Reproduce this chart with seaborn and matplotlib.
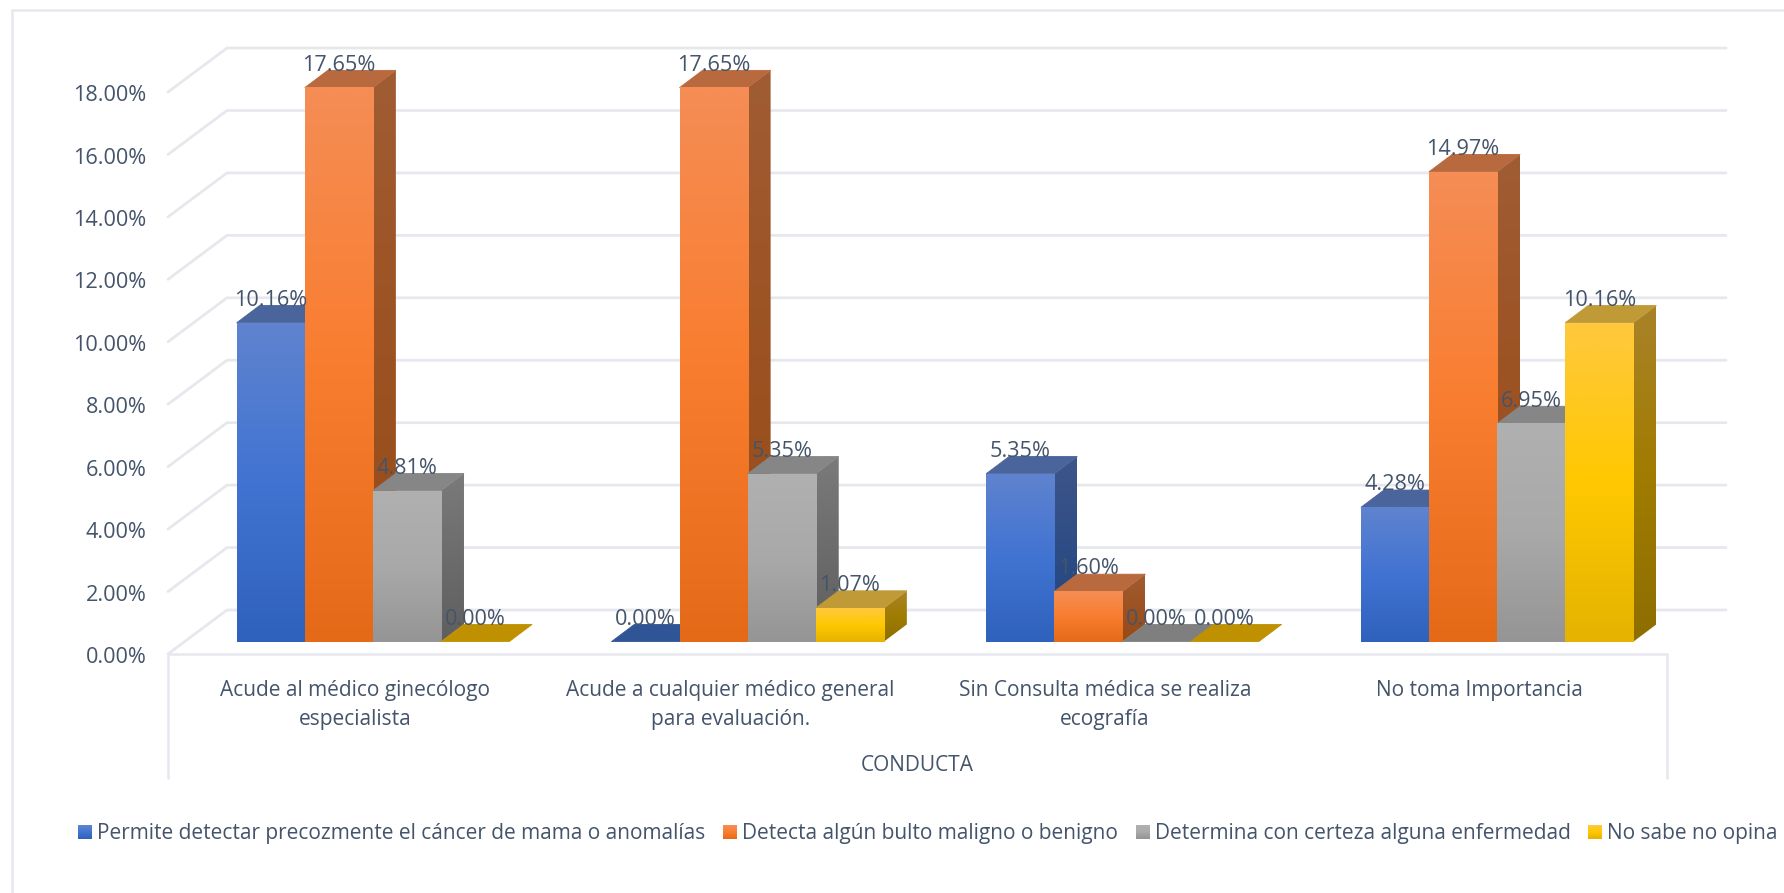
import matplotlib
matplotlib.use('Agg')
import matplotlib.pyplot as plt
import numpy as np
import pandas as pd
import seaborn as sns
from matplotlib.colors import to_rgb
from matplotlib.legend_handler import HandlerBase
from matplotlib.lines import Line2D
from matplotlib.patches import Polygon, Rectangle
from matplotlib.transforms import ScaledTranslation

# Data (percent)
conductas = ['Acude al médico ginecólogo\nespecialista',
             'Acude a cualquier médico general\npara evaluación.',
             'Sin Consulta médica se realiza\necografía',
             'No toma Importancia']
series = ['Permite detectar precozmente el cáncer de mama o anomalías',
          'Detecta algún bulto maligno o benigno',
          'Determina con certeza alguna enfermedad',
          'No sabe no opina']
permite = [10.16, 0.00, 5.35, 4.28]
detecta = [17.65, 17.65, 1.60, 14.97]
determina = [4.81, 5.35, 0.00, 6.95]
no_sabe = [0.00, 1.07, 0.00, 10.16]
y_ticks = [0, 2, 4, 6, 8, 10, 12, 14, 16, 18]

# Colours: gradient stops for the front and side faces, flat colour for the tops
front_stops = [['#5f83cf', '#4173d2', '#2f62bc'],
               ['#f58d55', '#f97d2f', '#e56a18'],
               ['#b0b0b0', '#a9a9a9', '#959595'],
               ['#ffc83d', '#ffc800', '#e5b300']]
side_stops = [['#3e5689', '#2e4c85', '#234680'],
              ['#a05c33', '#9c5222', '#954c18'],
              ['#7a7a7a', '#6c6c6c', '#5f5f5f'],
              ['#a98229', '#a07c00', '#8d6e00']]
top_colors = ['#4a649c', '#b8693e', '#868686', '#c09a36']
flat_colors = ['#2f5597', '#b8693e', '#7f7f7f', '#bf9000']
text_color = '#44546a'
line_color = '#e6e8ee'

W, H = 1784, 893
sns.set_theme(style='white')
plt.rcParams['font.family'] = ['Open Sans', 'DejaVu Sans']
plt.rcParams['text.color'] = text_color


def axes_px(fig, left, right, top, bottom):
    return fig.add_axes([left / W, 1 - bottom / H, (right - left) / W, (bottom - top) / H])


def gradient(stops, n=64):
    rgb = np.array([to_rgb(c) for c in stops])
    pos = np.linspace(0, 1, len(stops))
    t = np.linspace(0, 1, n)
    return np.stack([np.interp(t, pos, rgb[:, i]) for i in range(3)], axis=1)


class GradientHandle(HandlerBase):
    # Legend square with the same fade as the bars
    def __init__(self, stops):
        super().__init__()
        self.stops = stops

    def create_artists(self, legend, orig_handle, xdescent, ydescent, width, height, fontsize, trans):
        colors = gradient(self.stops, 14)
        h = height / len(colors)
        return [Rectangle((-xdescent, -ydescent + height - (i + 1) * h), width, h * 1.05,
                          facecolor=c, edgecolor='none', transform=trans)
                for i, c in enumerate(colors)]


fig = plt.figure(figsize=(W / 100, H / 100), dpi=100, facecolor='white')

# Outer frame of the chart, only left and top are inside the crop
fig.add_artist(Line2D([12 / W, 12 / W], [0, 1 - 10 / H], color=line_color, lw=1.8))
fig.add_artist(Line2D([12 / W, 1], [1 - 10 / H, 1 - 10 / H], color=line_color, lw=1.8))

# Wall axes: ticks, category labels and the 3D looking grid
wall = axes_px(fig, 168, 1667, 654 - 20 * 31.22, 654)
wall.set_xlim(-0.5, 3.5)
wall.set_ylim(0, 20)
wall.patch.set_visible(False)
sns.despine(ax=wall, left=True, bottom=True, top=True, right=True)
wall.set_yticks(y_ticks)
wall.set_yticklabels([f'{t:.2f}%' for t in y_ticks], fontsize=15.6, color=text_color)
wall.set_xticks(range(len(conductas)))
wall.set_xticklabels(conductas, fontsize=15, color=text_color, linespacing=1.5)
wall.tick_params(axis='y', length=0, pad=15.5)
wall.tick_params(axis='x', length=0, pad=18.5)
wall.set_xlabel('CONDUCTA', fontsize=15, color=text_color, labelpad=18)
# Tick labels sit a little lower than the gridline ends
nudge = ScaledTranslation(0, -0.8 / 72, fig.dpi_scale_trans)
for lab in wall.get_yticklabels():
    lab.set_transform(lab.get_transform() + nudge)

unit_x = (1667 - 168) / 4
unit_y = 31.22
back_x = -0.5 + 59 / unit_x
back_right = -0.5 + (1726 - 168) / unit_x
back_dy = 44 / unit_y
for t in y_ticks:
    wall.plot([-0.5, back_x, back_right], [t, t + back_dy, t + back_dy],
              color=line_color, lw=2, clip_on=False, solid_joinstyle='round', zorder=1)
floor = -(778 - 654) / unit_y
wall.plot([-0.5, -0.5, 3.5, 3.5], [floor, 0, 0, floor], color=line_color, lw=1.8, clip_on=False, zorder=1)

# Bars axes: sits on the floor, half a depth behind the wall front
ax = axes_px(fig, 185.5, 1684.5, 641.7 - 20 * 31.39, 641.7)
ax.patch.set_visible(False)

df = pd.DataFrame({
    'conducta': conductas * 4,
    'serie': [s for s in series for _ in conductas],
    'valor': permite + detecta + determina + no_sabe,
})
sns.barplot(data=df, x='conducta', y='valor', hue='serie', hue_order=series, order=conductas,
            palette=[s[1] for s in front_stops], width=0.727, gap=0, saturation=1,
            errorbar=None, ax=ax)
handles, labels = ax.get_legend_handles_labels()
ax.get_legend().remove()
ax.set_xlim(-0.5, 3.5)
ax.set_ylim(0, 20)
ax.set_xlabel('')
ax.set_ylabel('')
ax.set_xticks([])
ax.set_yticks([])
sns.despine(ax=ax, left=True, bottom=True, top=True, right=True)

depth_x = 23 / ((1684.5 - 185.5) / 4)
depth_y = 17.3 / 31.39

# Side, top and front face for every bar, left to right so nearer bars cover the earlier sides
for s, container in enumerate(ax.containers):
    for bar in container:
        x0, x1 = bar.get_x(), bar.get_x() + bar.get_width()
        v = bar.get_height()
        z = 3 + 2 * (bar.get_x() + s * 0.001)
        bar.set_zorder(z + 0.02)
        bar.set_linewidth(0)
        if v > 0:
            side = Polygon([(x1, 0), (x1 + depth_x, depth_y), (x1 + depth_x, v + depth_y), (x1, v)],
                           closed=True, transform=ax.transData, facecolor='none', edgecolor='none')
            ax.add_patch(side)
            im = ax.imshow(gradient(side_stops[s])[:, None, :], extent=(x1, x1 + depth_x, 0, v + depth_y),
                           origin='upper', aspect='auto', interpolation='bilinear', zorder=z)
            im.set_clip_path(side)
            ax.imshow(gradient(front_stops[s])[:, None, :], extent=(x0, x1, 0, v), origin='upper',
                      aspect='auto', interpolation='bilinear', zorder=z + 0.03)
        top_color = top_colors[s] if v > 0 else flat_colors[s]
        ax.add_patch(Polygon([(x0, v), (x0 + depth_x, v + depth_y), (x1 + depth_x, v + depth_y), (x1, v)],
                             closed=True, facecolor=top_color, edgecolor=top_color, lw=0.6, zorder=z + 0.01))
        ax.annotate(f'{v:.2f}%', ((x0 + x1) / 2, v), xytext=(0, 16.2), textcoords='offset points',
                    ha='center', va='center', fontsize=15.6, color=text_color, zorder=50)
ax.set_xlim(-0.5, 3.5)
ax.set_ylim(0, 20)

fig.legend(handles, labels, loc='center left', bbox_to_anchor=(78 / W, 1 - 834 / H), ncol=4,
           frameon=False, fontsize=15.06, labelcolor=text_color, handlelength=0.66, handleheight=0.66,
           handletextpad=0.25, columnspacing=0.85, borderpad=0, borderaxespad=0,
           handler_map={h: GradientHandle(front_stops[i]) for i, h in enumerate(handles)})

fig.savefig('out.png', dpi=100)
